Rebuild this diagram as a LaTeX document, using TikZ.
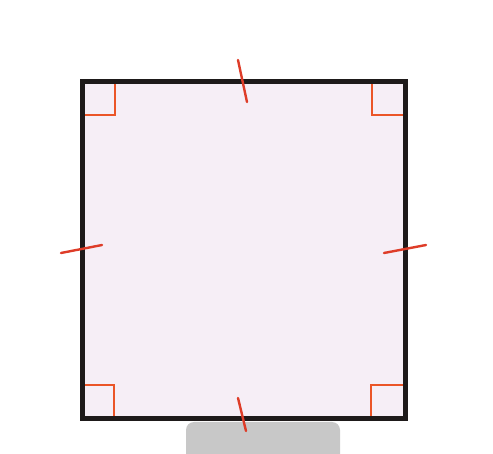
\documentclass[tikz,border=0pt]{standalone}
\usetikzlibrary{calc}
\definecolor{sqfill}{RGB}{246,238,246}
\definecolor{sqedge}{RGB}{30,26,26}
\definecolor{tickc}{RGB}{222,60,40}
\definecolor{anglec}{RGB}{235,85,40}
\definecolor{padgray}{RGB}{200,200,200}
\begin{document}
\begin{tikzpicture}[x=1pt,y=-1pt,
  tickmark/.style={draw=tickc,line width=2.4pt,line cap=round},
  anglemark/.style={draw=anglec,line width=2.4pt},
  squareedge/.style={draw=sqedge,line width=5pt,fill=sqfill}]
\useasboundingbox (0,0) rectangle (493,454);
\begin{scope}
\clip (0,0) rectangle (493,454);
\fill[padgray,rounded corners=8pt] (186,422) rectangle (340,470);
\end{scope}
\draw[squareedge] (82.5,81.5) rectangle (405.5,418.5);
% right-angle marks
\draw[anglemark] (115,84) -- (115,115) -- (85,115);
\draw[anglemark] (372,84) -- (372,115) -- (403,115);
\draw[anglemark] (85,385) -- (114,385) -- (114,416);
\draw[anglemark] (403,385) -- (371,385) -- (371,416);
% tick marks
\draw[tickmark] (238,60) -- (247,102);
\draw[tickmark] (238,398) -- (246,431);
\draw[tickmark] (61,253) -- (102,245);
\draw[tickmark] (384,253) -- (426,245);
\end{tikzpicture}
\end{document}
